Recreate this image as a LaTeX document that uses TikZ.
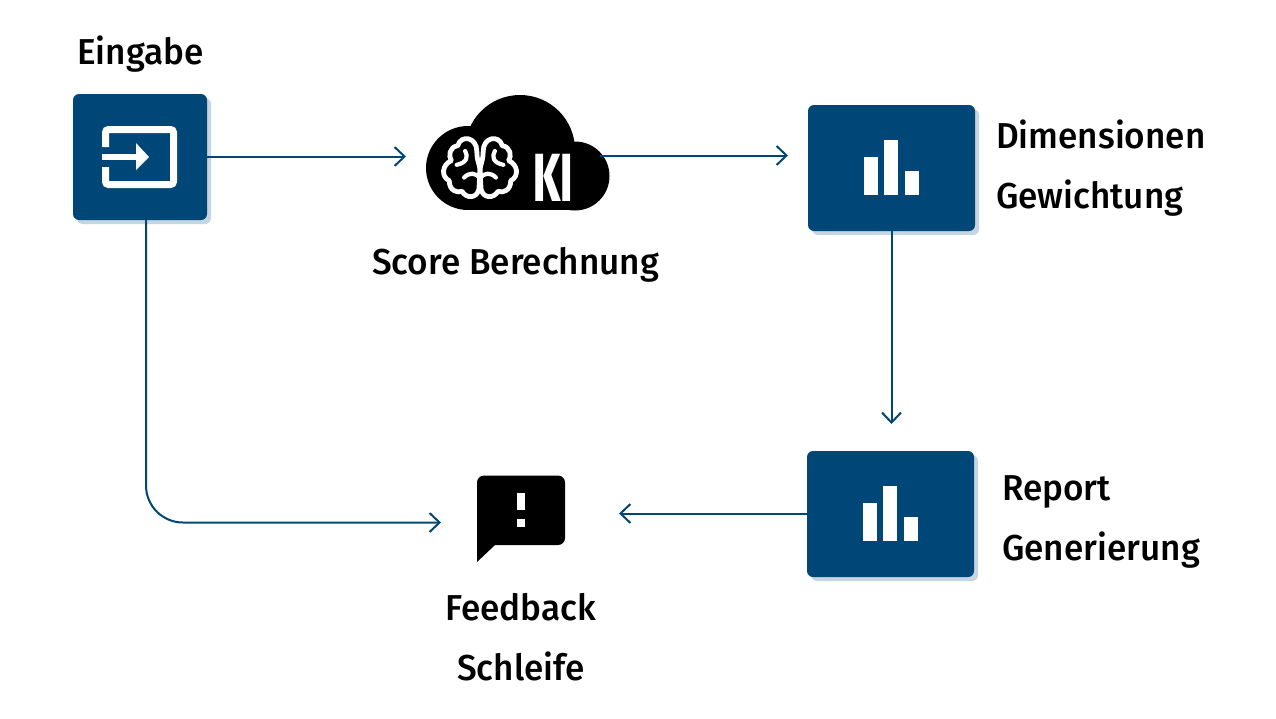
\documentclass[tikz,border=0pt]{standalone}
\usepackage{fontspec}
\setmainfont[FakeStretch=0.975]{Fira Sans Medium}
\newfontfamily\kifont[FakeStretch=0.62]{Fira Sans ExtraBold}
\usetikzlibrary{arrows.meta}
\definecolor{boxblue}{HTML}{004777}
\definecolor{shadeblue}{HTML}{C5D5E2}
\tikzset{
  conn/.style={draw=boxblue,line width=2pt,-{Straight Barb[length=10pt,width=19pt,line width=2pt]}},
  tile/.style={fill=boxblue,rounded corners=6pt,inner sep=0pt},
  shade/.style={fill=shadeblue,rounded corners=6pt},
  lbl/.style={inner sep=0pt,font=\fontsize{36}{36}\selectfont,anchor=base west},
  brainline/.style={draw=white,line width=4.8pt,line cap=round,line join=round,fill=none}
}
\newcommand{\barsicon}[2]{
  \fill[white] (#1,#2) rectangle +(14,-38);
  \fill[white] (#1+20,#2) rectangle +(14,-55);
  \fill[white] (#1+41,#2) rectangle +(14,-24);
}
\begin{document}
\begin{tikzpicture}[x=1pt,y=-1pt]
\useasboundingbox (0,0) rectangle (1276,718);
\fill[white] (0,0) rectangle (1276,718);

% tiles
\fill[shade] (77,98) rectangle (211,224);
\fill[tile] (73,94) rectangle (207,220);
\fill[shade] (812,109) rectangle (979,235);
\fill[tile] (808,105) rectangle (975,231);
\fill[shade] (811,455) rectangle (978,581);
\fill[tile] (807,451) rectangle (974,577);
\coordinate (input) at (207,156.5);
\coordinate (inputb) at (146,220);
\coordinate (dimin) at (788,155.5);
\coordinate (dimb) at (891.5,231);
\coordinate (repin) at (891.5,424);
\coordinate (repout) at (807,513.5);
\coordinate (cloudin) at (406,156.5);
\coordinate (cloudout) at (600,155.5);
\coordinate (fbright) at (619,513.5);
\coordinate (fbleft) at (441,522.5);

% input icon
\draw[white,line width=7pt,rounded corners=3pt] (105.5,147) -- (105.5,129.5) -- (173.5,129.5) -- (173.5,184.5) -- (105.5,184.5) -- (105.5,167);
\fill[white] (102,154) rectangle (136,160);
\fill[white] (136,143) -- (149,157) -- (136,170) -- cycle;

% bars
\barsicon{864}{195}
\barsicon{863}{541}

% cloud
\fill[black] (468,168) circle (42) (575,176) circle (34.5) (520,150) circle (55);
\fill[black] (468,170) rectangle (575,210);

% brain
\begin{scope}[shift={(480,168)},scale=1.06,shift={(-480,-168)}]
\draw[brainline] (477,152) .. controls (477,139) and (462,136) .. (459,147)
  .. controls (451,148) and (450,157) .. (453,161)
  .. controls (444,165) and (443,176) .. (451,180)
  .. controls (451,189) and (458,192) .. (463,190)
  .. controls (467,197) and (477,197) .. (479,188) -- (480,170) .. controls (480,165) and (477,162) .. (477,152);
\draw[brainline] (483,152) .. controls (483,139) and (498,136) .. (501,147)
  .. controls (509,148) and (510,157) .. (507,161)
  .. controls (516,165) and (517,176) .. (509,180)
  .. controls (509,189) and (502,192) .. (497,190)
  .. controls (493,197) and (483,197) .. (481,188) -- (480,170) .. controls (480,165) and (483,162) .. (483,152);
\draw[brainline,line width=4.2pt] (466,152) .. controls (469,157) and (468,163) .. (458,165);
\draw[brainline,line width=4.2pt] (494,152) .. controls (491,157) and (492,163) .. (502,165);
\draw[brainline,line width=4.2pt] (480,178) .. controls (476,172) and (470,172) .. (465,177);
\draw[brainline,line width=4.2pt] (480,178) .. controls (484,172) and (490,172) .. (495,177);
\end{scope}
\node[inner sep=0pt,text=white,anchor=base] (kitext) at (553.5,201) {\kifont\fontsize{68}{68}\selectfont KI};

% speech bubble
\fill[black,rounded corners=7pt] (477,475.5) rectangle (565,545);
\fill[black] (477,530) -- (495,545) -- (477,562) -- cycle;
\fill[white] (517,493) rectangle (525,510);
\fill[white] (517,519) rectangle (525,527);

% labels
\node[lbl] (eingabe) at (77,64) {Eingabe};
\node[lbl] (score) at (372,274) {Score Berechnung};
\node[lbl] (dim) at (996,148) {Dimensionen};
\node[lbl] (gew) at (996,208) {Gewichtung};
\node[lbl] (report) at (1002,500) {Report};
\node[lbl] (gen) at (1002,560) {Generierung};
\node[lbl] (feed) at (445,620) {Feedback};
\node[lbl] (schl) at (457,680) {Schleife};

% connectors
\draw[conn] (input) -- (cloudin);
\draw[conn] (cloudout) -- (dimin);
\draw[conn] (dimb) -- (repin);
\draw[conn] (repout) -- (fbright);
\draw[conn,rounded corners=37pt] (inputb) -- (146,522.5) -- (fbleft);
\end{tikzpicture}
\end{document}
